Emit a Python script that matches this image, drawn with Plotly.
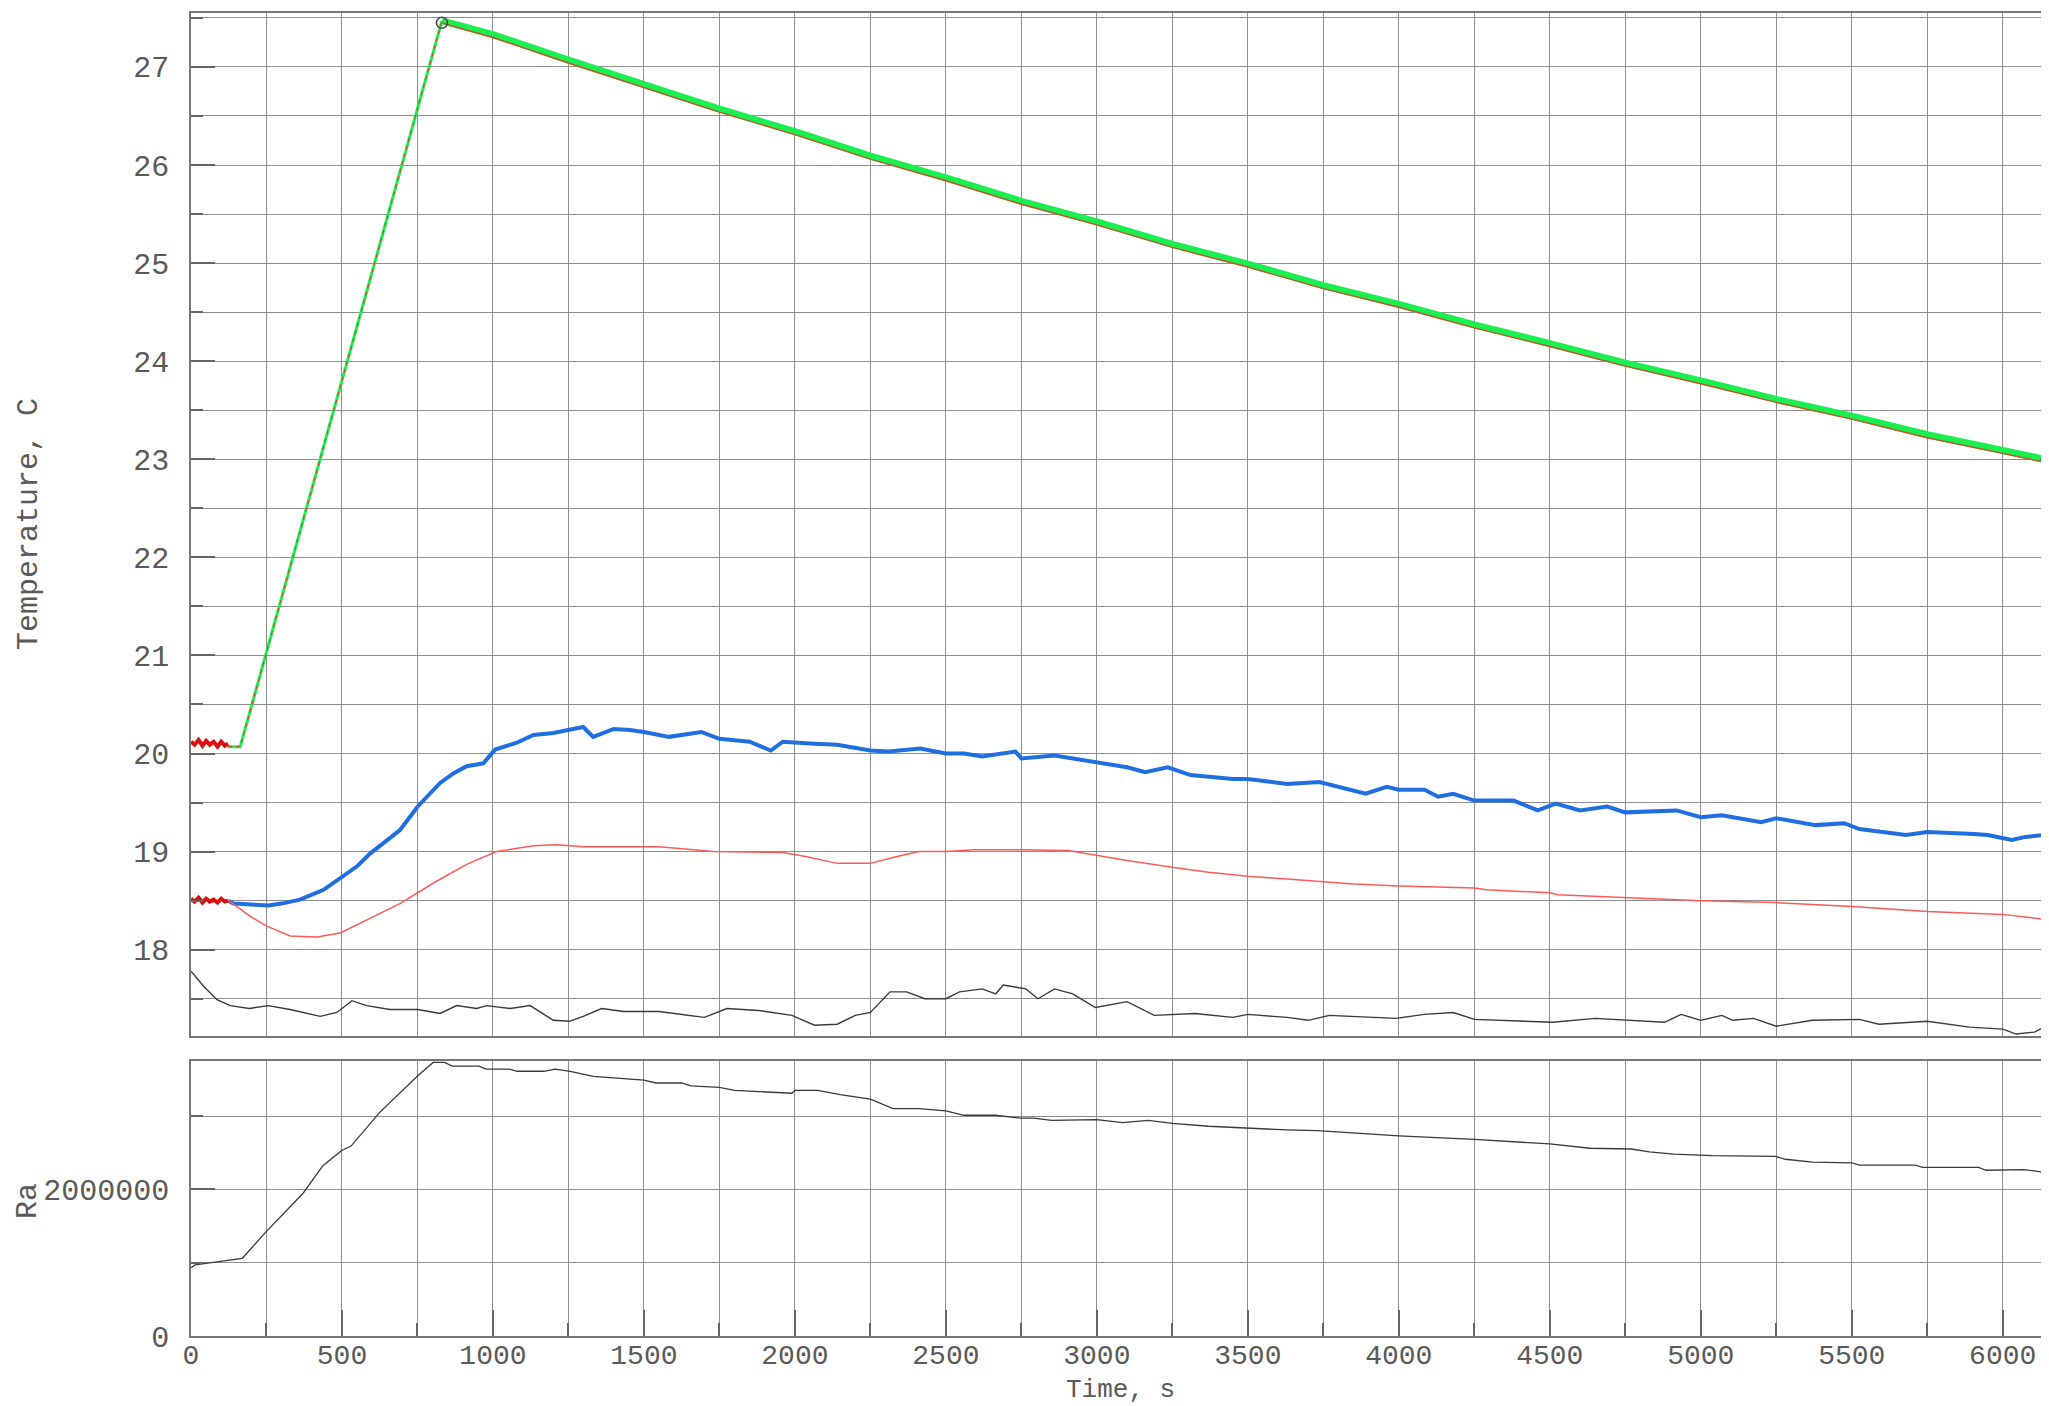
import numpy as np
import plotly.graph_objects as go

# ---------------- data ----------------
# pre-heating noisy segments (red)
t_pre = [0, 12, 25, 38, 50, 62, 75, 88, 100, 112, 123]
T_pre_hot = [20.12, 20.09, 20.14, 20.08, 20.13, 20.09, 20.12, 20.07, 20.12, 20.08, 20.10]
T_pre_bulk = [18.52, 18.49, 18.53, 18.48, 18.52, 18.49, 18.51, 18.48, 18.52, 18.49, 18.50]

# heated-plate temperature, heating ramp (measured = set value)
t_ramp = [123, 163, 831]
T_ramp = [20.07, 20.07, 27.47]

# heated-plate temperature, cooling: measured (green) and set value (red)
t_cool = [831, 1000, 1250, 1500, 1750, 2000, 2250, 2500, 2750, 3000,
          3250, 3500, 3750, 4000, 4250, 4500, 4750, 5000, 5250, 5500, 5750, 6000, 6138]
T_cool_meas = [27.47, 27.33, 27.07, 26.82, 26.57, 26.34, 26.09, 25.87, 25.63, 25.42,
               25.19, 24.99, 24.77, 24.58, 24.37, 24.18, 23.98, 23.80, 23.61, 23.44, 23.25, 23.09, 23.00]
T_cool_set = [27.45, 27.30, 27.04, 26.79, 26.54, 26.31, 26.06, 25.84, 25.60, 25.39,
              25.16, 24.96, 24.74, 24.55, 24.34, 24.15, 23.95, 23.77, 23.58, 23.41, 23.22, 23.06, 22.97]

# blue (noisy) series
t_blue = [123, 141, 200, 256, 300, 361, 439, 502, 550, 593, 640, 692, 751, 790, 825, 870, 913, 968,
          1007, 1079, 1134, 1200, 1253, 1299, 1332, 1400, 1454, 1500, 1583, 1690, 1750, 1850, 1920,
          1960, 2065, 2140, 2250, 2310, 2415, 2500, 2560, 2620, 2730, 2750, 2860, 3000, 3100, 3160,
          3235, 3310, 3450, 3500, 3630, 3737, 3800, 3890, 3960, 4000, 4085, 4130, 4180, 4250, 4380,
          4460, 4520, 4600, 4690, 4750, 4920, 5000, 5070, 5200, 5250, 5380, 5475, 5525, 5680, 5750,
          5905, 5950, 6030, 6075, 6138]
T_blue = [18.50, 18.47, 18.46, 18.45, 18.47, 18.51, 18.61, 18.75, 18.85, 18.98, 19.10, 19.22, 19.46,
          19.58, 19.70, 19.80, 19.87, 19.90, 20.04, 20.11, 20.19, 20.21, 20.24, 20.27, 20.17, 20.25,
          20.24, 20.22, 20.17, 20.22, 20.15, 20.12, 20.03, 20.12, 20.10, 20.09, 20.03, 20.02, 20.05,
          20.00, 20.00, 19.97, 20.02, 19.95, 19.98, 19.91, 19.86, 19.81, 19.86, 19.78, 19.74, 19.74,
          19.69, 19.71, 19.66, 19.59, 19.66, 19.63, 19.63, 19.56, 19.59, 19.52, 19.52, 19.42, 19.49,
          19.42, 19.46, 19.40, 19.42, 19.35, 19.37, 19.30, 19.34, 19.27, 19.29, 19.23, 19.17, 19.20,
          19.18, 19.17, 19.12, 19.15, 19.17]

# light red (smooth) series
t_lred = [123, 130, 196, 251, 328, 417, 494, 582, 692, 803, 913, 1012, 1134, 1210, 1300, 1500, 1550,
          1730, 1960, 2035, 2140, 2250, 2325, 2410, 2500, 2595, 2750, 2905, 3000, 3100, 3250, 3370,
          3500, 3630, 3737, 3850, 4000, 4250, 4290, 4500, 4525, 4750, 5000, 5250, 5500, 5750, 6000, 6138]
T_lred = [18.50, 18.49, 18.34, 18.24, 18.14, 18.13, 18.17, 18.30, 18.47, 18.68, 18.87, 19.00, 19.06,
          19.07, 19.05, 19.05, 19.05, 19.00, 18.99, 18.95, 18.88, 18.88, 18.94, 19.00, 19.00, 19.02,
          19.02, 19.01, 18.96, 18.91, 18.84, 18.79, 18.75, 18.72, 18.70, 18.67, 18.65, 18.63, 18.61,
          18.58, 18.56, 18.53, 18.50, 18.48, 18.44, 18.39, 18.36, 18.31]

# dark (black) series
t_dark = [0, 41, 86, 130, 193, 256, 328, 428, 483, 533, 582, 659, 751, 825, 880, 946, 979, 1057, 1123,
          1200, 1253, 1299, 1360, 1433, 1550, 1700, 1775, 1880, 1990, 2065, 2140, 2200, 2250, 2315,
          2370, 2430, 2500, 2545, 2620, 2665, 2690, 2765, 2805, 2860, 2920, 2995, 3100, 3190, 3325,
          3450, 3500, 3630, 3700, 3770, 3990, 4085, 4180, 4250, 4510, 4650, 4880, 4935, 5000, 5070,
          5105, 5175, 5250, 5370, 5525, 5590, 5750, 5890, 6000, 6045, 6105, 6138]
T_dark = [17.78, 17.63, 17.49, 17.43, 17.40, 17.43, 17.39, 17.32, 17.36, 17.48, 17.43, 17.39, 17.39,
          17.35, 17.43, 17.40, 17.43, 17.40, 17.43, 17.28, 17.27, 17.32, 17.40, 17.37, 17.37, 17.31,
          17.40, 17.38, 17.33, 17.23, 17.24, 17.33, 17.36, 17.57, 17.57, 17.50, 17.50, 17.57, 17.60,
          17.55, 17.64, 17.60, 17.50, 17.60, 17.55, 17.41, 17.47, 17.33, 17.35, 17.31, 17.34, 17.31,
          17.28, 17.33, 17.30, 17.34, 17.36, 17.29, 17.26, 17.30, 17.26, 17.34, 17.28, 17.33, 17.28,
          17.30, 17.22, 17.28, 17.29, 17.24, 17.27, 17.21, 17.19, 17.14, 17.16, 17.21]

# Rayleigh number (in millions)
t_ra = [0, 13, 170, 246, 372, 436, 499, 530, 625, 751, 802, 840, 865, 953, 978, 1054, 1080, 1168, 1206,
        1256, 1332, 1420, 1500, 1540, 1625, 1655, 1750, 1800, 1990, 2000, 2075, 2150, 2250, 2325, 2410,
        2500, 2560, 2665, 2750, 2790, 2850, 3000, 3085, 3170, 3250, 3370, 3500, 3630, 3730, 4000, 4250,
        4332, 4500, 4633, 4770, 4830, 4910, 5037, 5247, 5280, 5370, 5500, 5525, 5710, 5735, 5920, 5945,
        6070, 6140]
Ra_mln = [0.93, 0.97, 1.06, 1.41, 1.95, 2.32, 2.53, 2.59, 3.05, 3.55, 3.73, 3.73, 3.68, 3.68, 3.64, 3.64,
          3.61, 3.61, 3.64, 3.61, 3.54, 3.51, 3.49, 3.45, 3.45, 3.41, 3.39, 3.35, 3.31, 3.35, 3.35, 3.29,
          3.23, 3.10, 3.10, 3.07, 3.01, 3.01, 2.97, 2.97, 2.94, 2.95, 2.91, 2.94, 2.90, 2.86, 2.83, 2.81,
          2.80, 2.73, 2.68, 2.66, 2.62, 2.56, 2.55, 2.51, 2.48, 2.46, 2.45, 2.41, 2.37, 2.36, 2.33, 2.33,
          2.30, 2.30, 2.26, 2.27, 2.23]

# markers
peak_t, peak_T = [831], [27.45]
end_t, end_T = [6138], [23.0]
dark_end_t, dark_end_T = [6138], [17.21]

# ---------------- figure ----------------
OFF = 8  # default body margin of the page
W, H = 2049 - OFF, 1406 - OFF
ML, MR, MT, MB = 191 - OFF, 4, 13 - OFF, 70
FONT = "Liberation Mono, Courier New, monospace"
TXT = "#5a5a5a"
GRID = "#8e8e8e"
AXL = "#777777"
FS = 30
FSX = 28

fig = go.Figure()

fig.add_trace(go.Scatter(x=t_cool, y=T_cool_meas, mode="lines",
                         line=dict(color="#19f050", width=7), xaxis="x", yaxis="y"))
fig.add_trace(go.Scatter(x=t_ramp, y=T_ramp, mode="lines",
                         line=dict(color="#19f050", width=3), xaxis="x", yaxis="y"))
fig.add_trace(go.Scatter(x=t_ramp, y=T_ramp, mode="lines",
                         line=dict(color="#c8502a", width=1.2, dash="4px,4px"), xaxis="x", yaxis="y"))
fig.add_trace(go.Scatter(x=t_cool, y=T_cool_set, mode="lines",
                         line=dict(color="#d0502a", width=1.4), xaxis="x", yaxis="y"))
fig.add_trace(go.Scatter(x=t_blue, y=T_blue, mode="lines",
                         line=dict(color="#1f6fe0", width=4), xaxis="x", yaxis="y"))
fig.add_trace(go.Scatter(x=t_lred, y=T_lred, mode="lines",
                         line=dict(color="#ff5a5a", width=1.5), xaxis="x", yaxis="y"))
fig.add_trace(go.Scatter(x=t_dark, y=T_dark, mode="lines",
                         line=dict(color="#3a3a3a", width=1.4), xaxis="x", yaxis="y"))
fig.add_trace(go.Scatter(x=t_pre, y=T_pre_hot, mode="lines",
                         line=dict(color="#dd1010", width=4), xaxis="x", yaxis="y"))
fig.add_trace(go.Scatter(x=t_pre, y=T_pre_bulk, mode="lines",
                         line=dict(color="#dd1010", width=4), xaxis="x", yaxis="y"))
fig.add_trace(go.Scatter(x=peak_t, y=peak_T, mode="markers",
                         marker=dict(symbol="circle-open", size=11, color="#444", line=dict(width=1.5)),
                         xaxis="x", yaxis="y"))
fig.add_trace(go.Scatter(x=end_t, y=end_T, mode="markers",
                         marker=dict(symbol="triangle-left", size=9, color="#333"), xaxis="x", yaxis="y"))
fig.add_trace(go.Scatter(x=dark_end_t, y=dark_end_T, mode="markers",
                         marker=dict(symbol="square", size=6, color="#222"), xaxis="x", yaxis="y"))

fig.add_trace(go.Scatter(x=t_ra, y=np.array(Ra_mln) * 1e6, mode="lines",
                         line=dict(color="#3a3a3a", width=1.3), xaxis="x2", yaxis="y2"))

plot_h = H - MT - MB
top_dom = [(1336 - 1036) / plot_h, 1.0]
bot_dom = [0.0, 275 / plot_h]

common_x = dict(range=[0, 6140], showline=True, linecolor=AXL, linewidth=1.5, mirror=True,
                showgrid=True, gridcolor=GRID, gridwidth=1, zeroline=False, automargin=False,
                tickfont=dict(family=FONT, size=FSX, color=TXT))

fig.update_layout(
    template="none",
    width=W, height=H, margin=dict(l=ML, r=MR, t=MT, b=MB, autoexpand=False),
    paper_bgcolor="white", plot_bgcolor="white", showlegend=False,
    font=dict(family=FONT, color=TXT),
    xaxis=dict(common_x, anchor="y", domain=[0, 1], dtick=500, tick0=0, showticklabels=False,
               ticks="", minor=dict(dtick=250, showgrid=True, gridcolor=GRID, ticks="")),
    yaxis=dict(domain=top_dom, range=[17.12, 27.55], dtick=1, tick0=0, showline=True, linecolor=AXL,
               linewidth=1.5, mirror=True, showgrid=True, gridcolor=GRID, zeroline=False,
               automargin=False,
               ticks="inside", ticklen=24, tickcolor="#666", tickwidth=2, ticklabelstandoff=14,
               tickfont=dict(family=FONT, size=FS, color=TXT),
               minor=dict(dtick=0.5, showgrid=True, gridcolor=GRID, ticks="inside", ticklen=12,
                          tickcolor="#666")),
    xaxis2=dict(common_x, anchor="y2", domain=[0, 1], dtick=500, tick0=0, ticks="inside", ticklen=26,
                tickcolor="#666", tickwidth=2, ticklabelstandoff=-7,
                minor=dict(dtick=250, showgrid=True, gridcolor=GRID, ticks="inside", ticklen=13,
                           tickcolor="#666")),
    yaxis2=dict(domain=bot_dom, range=[0, 3.75e6], tickvals=[0, 2000000], ticktext=["0", "2000000"],
                showline=True, linecolor=AXL, linewidth=1.5, mirror=True, showgrid=True,
                gridcolor=GRID, zeroline=False, automargin=False,
                ticks="inside", ticklen=24, tickcolor="#666",
                tickwidth=2, ticklabelstandoff=14, tickfont=dict(family=FONT, size=FS, color=TXT),
                minor=dict(tickvals=[1000000, 3000000], showgrid=True, gridcolor=GRID,
                           ticks="inside", ticklen=12, tickcolor="#666")),
)

def px_x(p):
    return (p - OFF - ML) / (W - ML - MR)

def px_y(p):
    return (H - MB - (p - OFF)) / plot_h

fig.add_annotation(text="Temperature, C", xref="paper", yref="paper", x=px_x(29), y=px_y(524),
                   textangle=-90, showarrow=False, xanchor="center", yanchor="middle",
                   font=dict(family=FONT, size=FS, color=TXT))
fig.add_annotation(text="Ra", xref="paper", yref="paper", x=px_x(28), y=px_y(1201),
                   textangle=-90, showarrow=False, xanchor="center", yanchor="middle",
                   font=dict(family=FONT, size=FS, color=TXT))
fig.add_annotation(text="Time, s", xref="paper", yref="paper", x=px_x(1120), y=px_y(1390),
                   showarrow=False, xanchor="center", yanchor="middle", borderpad=0,
                   font=dict(family=FONT, size=26, color=TXT))

fig.write_html("out.html")
